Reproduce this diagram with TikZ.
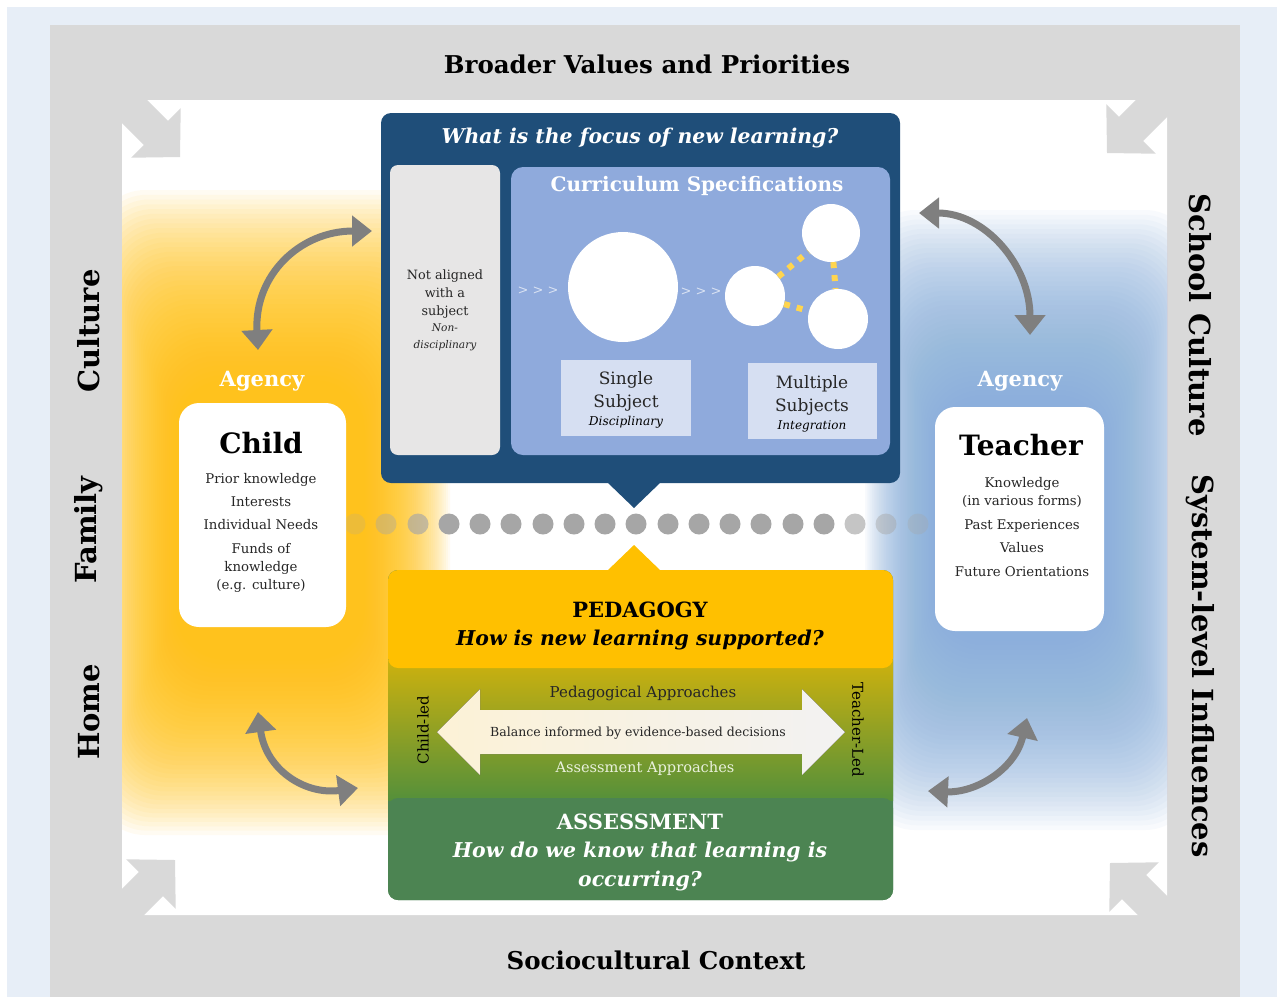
\documentclass[tikz,border=0pt]{standalone}
\usepackage{fontspec}
\setmainfont{DejaVu Serif}
\usepackage{tikz}
\usetikzlibrary{arrows.meta}

\definecolor{pageblue}{HTML}{E7EEF7}
\definecolor{framegray}{HTML}{D9D9D9}
\definecolor{arrowgray}{HTML}{7F7F7F}
\definecolor{dotgray}{HTML}{A6A6A6}
\definecolor{navy}{HTML}{1F4E79}
\definecolor{specblue}{HTML}{8FAADC}
\definecolor{tagblue}{HTML}{D6DFF2}
\definecolor{notegray}{HTML}{E7E6E6}
\definecolor{chevron}{HTML}{DAE3F3}
\definecolor{pedyellow}{HTML}{FFC000}
\definecolor{oliveyellow}{HTML}{CDB10E}
\definecolor{midgreen}{HTML}{55903A}
\definecolor{assessgreen}{HTML}{4C8452}
\definecolor{linkyellow}{HTML}{FFD54F}
\definecolor{glowyellow}{HTML}{FFC20A}
\definecolor{glowblue}{HTML}{86AFDC}
\definecolor{cream}{HTML}{FCF2D6}
\definecolor{paleapp}{HTML}{EAF1DD}

\def\cornerarrow(#1)(#2){\fill[framegray, shift={(#1)}, rotate=#2] (0,0) -- (-34,35) -- (-34,17) -- (-115,17) -- (-115,-17) -- (-34,-17) -- (-34,-35) -- cycle;}

\tikzset{
	sidelabel/.style={font=\fontsize{29}{34}\selectfont\bfseries},
	bandlabel/.style={font=\fontsize{24.5}{29}\selectfont\bfseries},
	agencylabel/.style={text=white, font=\fontsize{21}{25}\selectfont\bfseries},
	personbox/.style={fill=white, rounded corners=20pt, inner sep=0pt},
	personname/.style={font=\fontsize{28}{32}\selectfont\bfseries},
	bodytext/.style={align=center, text=black!85},
	curvarrow/.style={draw=arrowgray, line width=7pt, {Triangle[length=20pt,width=30pt]}-{Triangle[length=20pt,width=30pt]}},
	link/.style={draw=linkyellow, line width=6pt, dash pattern=on 6pt off 7pt},
	bubble/.style={circle, fill=white, inner sep=0pt},
	question/.style={font=\fontsize{20.4}{24}\selectfont\bfseries\itshape},
	heading/.style={font=\fontsize{21}{25}\selectfont\bfseries},
	glowlayer/.style={fill opacity=0.05, rounded corners=50pt},
}

\begin{document}
\begin{tikzpicture}[x=1pt, y=-1pt]
		%%%%% START %%%%%
		\useasboundingbox (0,0) rectangle (1277,997);
		\fill[white] (0,0) rectangle (1277,997);
		\fill[pageblue] (7,7) rectangle (1277,997);
		\fill[framegray] (50,25) rectangle (1240,997);
		\fill[white, rounded corners=10pt] (122,100) rectangle (1167,915);
		
		\begin{scope}
			\clip[rounded corners=10pt] (122,100) rectangle (1167,915);
			\foreach \k in {0,...,40} {
				\fill[glowyellow, glowlayer] ({95+80*\k/40},{190+190*\k/40}) rectangle ({450-85*\k/40},{835-175*\k/40});
				\fill[glowblue, glowlayer] ({865+70*\k/40},{210+190*\k/40}) rectangle ({1195-90*\k/40},{830-190*\k/40});
			}
		\end{scope}
		
		\cornerarrow(180,157)(-45)
		\cornerarrow(1107,153)(-135)
		\cornerarrow(175,860)(45)
		\cornerarrow(1110,863)(135)
		
		\node[bandlabel] (broader) at (647,64) {Broader Values and Priorities};
		\node[bandlabel] (context) at (656,960) {Sociocultural Context};
		\node[sidelabel, rotate=90] (culture) at (89,331) {Culture};
		\node[sidelabel, rotate=90] (family) at (89,530) {Family};
		\node[sidelabel, rotate=90] (home) at (89,712) {Home};
		\node[sidelabel, rotate=-90] (school) at (1200,315) {School Culture};
		\node[sidelabel, rotate=-90] (system) at (1200,666) {System-level Influences};
		
		\draw[curvarrow] (258,350) .. controls (254,275) and (300,231) .. (372,231);
		\draw[curvarrow] (919,213) .. controls (985,213) and (1030,265) .. (1030,335);
		\draw[curvarrow] (258,712) .. controls (266,770) and (305,795) .. (358,788);
		\draw[curvarrow] (1027,718) .. controls (1015,770) and (975,793) .. (928,791);
		
		\foreach \x/\o in {355/0.2,386/0.4,418/0.65,449/1,480/1,511/1,543/1,574/1,605/1,636/1,668/1,699/1,730/1,761/1,793/1,824/1,855/0.65,886/0.45,918/0.3}
			\fill[dotgray, opacity=\o] (\x,524) circle (10.5pt);
		
		% child and teacher
		\node[personbox, minimum width=167pt, minimum height=224pt] (childbox) at (262.5,515) {};
		\node[agencylabel] (childagency) at (262,381) {Agency};
		\node[personname] (child) at (261,443) {Child};
		\node[bodytext, font=\fontsize{13.3}{23}\selectfont] (childneeds) at (261,502) {Prior knowledge\\Interests\\Individual Needs};
		\node[bodytext, font=\fontsize{13.3}{18}\selectfont] (childfunds) at (261,568) {Funds of\\knowledge\\(e.g. culture)};
		
		\node[personbox, minimum width=169pt, minimum height=224pt] (teacherbox) at (1019.5,519) {};
		\node[agencylabel] (teacheragency) at (1020,381) {Agency};
		\node[personname] (teacher) at (1021,445) {Teacher};
		\node[bodytext, font=\fontsize{13.3}{18}\selectfont] (teacherknow) at (1022,492) {Knowledge\\(in various forms)};
		\node[bodytext, font=\fontsize{13.3}{23.5}\selectfont] (teacherpast) at (1022,548) {Past Experiences\\Values\\Future Orientations};
		
		% curriculum
		\node[fill=navy, rounded corners=10pt, minimum width=519pt, minimum height=370pt] (focusbox) at (640.5,298) {};
		\fill[navy] (607,482) -- (634,508) -- (661,482) -- cycle;
		\node[question, text=white] (focus) at (640,138) {What is the focus of new learning?};
		\node[fill=notegray, rounded corners=8pt, minimum width=110pt, minimum height=290pt] (notebox) at (445,310) {};
		\node[bodytext, font=\fontsize{12.8}{18}\selectfont] (notaligned) at (445,294) {Not aligned\\with a\\subject};
		\node[bodytext, font=\fontsize{10.6}{17}\selectfont\itshape] (nondisc) at (445,337) {Non-\\disciplinary};
		\node[fill=specblue, rounded corners=12pt, minimum width=379pt, minimum height=288pt] (specbox) at (700.5,311) {};
		\node[font=\fontsize{20}{24}\selectfont\bfseries, text=white] (spec) at (697,186) {Curriculum Specifications};
		
		\node[font=\fontsize{13}{15}\selectfont, text=chevron] (chev1) at (538,291) {> > >};
		\node[font=\fontsize{13}{15}\selectfont, text=chevron] (chev2) at (701,292) {> > >};
		\node[bubble, minimum size=110pt] (single) at (623,287) {};
		\node[bubble, minimum size=60pt] (multi1) at (755,296) {};
		\node[bubble, minimum size=58pt] (multi2) at (831,233) {};
		\node[bubble, minimum size=60pt] (multi3) at (838,319) {};
		\draw[link] (multi1) -- (multi2);
		\draw[link] (multi1) -- (multi3);
		\draw[link] (multi2) -- (multi3);
		
		\node[fill=tagblue, minimum width=130pt, minimum height=76pt] (singletag) at (626,398) {};
		\node[bodytext, font=\fontsize{17}{23}\selectfont] (singlename) at (626,391) {Single\\Subject};
		\node[font=\fontsize{12.2}{14}\selectfont\itshape] (disciplinary) at (626,422) {Disciplinary};
		\node[fill=tagblue, minimum width=129pt, minimum height=76pt] (multitag) at (812.5,401) {};
		\node[bodytext, font=\fontsize{17}{23}\selectfont] (multiname) at (812,395) {Multiple\\Subjects};
		\node[font=\fontsize{12}{14}\selectfont\itshape] (integration) at (812,426) {Integration};
		
		% pedagogy and assessment
		\node[fill=assessgreen, rounded corners=10pt, minimum width=505pt, minimum height=330pt] (practicebox) at (640.5,735) {};
		\fill[top color=oliveyellow, bottom color=midgreen] (388,660) rectangle (893,800);
		\fill[pedyellow, rounded corners=10pt] (388,570) rectangle (893,668);
		\fill[pedyellow] (607,571) -- (634,545) -- (661,571) -- cycle;
		\fill[assessgreen, rounded corners=10pt] (388,798) rectangle (893,900);
		
		\node[heading] (pedagogy) at (640,610) {PEDAGOGY};
		\node[question] (supported) at (640,640) {How is new learning supported?};
		
		\fill[left color=cream, right color=black!5] (437,732) -- (480,689) -- (480,710) -- (802,710) -- (802,689) -- (845,732) -- (802,775) -- (802,754) -- (480,754) -- (480,775) -- cycle;
		\node[font=\fontsize{15}{18}\selectfont, text=black!85] (pedapp) at (643,693) {Pedagogical Approaches};
		\node[font=\fontsize{12.5}{15}\selectfont, text=black!85] (balance) at (638,733) {Balance informed by evidence-based decisions};
		\node[font=\fontsize{14.6}{18}\selectfont, text=paleapp] (assessapp) at (645,768) {Assessment Approaches};
		\node[font=\fontsize{15}{18}\selectfont, rotate=90] (childled) at (423,730) {Child-led};
		\node[font=\fontsize{15}{18}\selectfont, rotate=-90] (teacherled) at (858,730) {Teacher-Led};
		
		\node[heading, text=white] (assessment) at (640,822) {ASSESSMENT};
		\node[question, text=white, align=center, font=\fontsize{20.4}{29}\selectfont\bfseries\itshape] (know) at (640,867) {How do we know that learning is\\occurring?};
		%%%%% END %%%%%
\end{tikzpicture}
\end{document}
